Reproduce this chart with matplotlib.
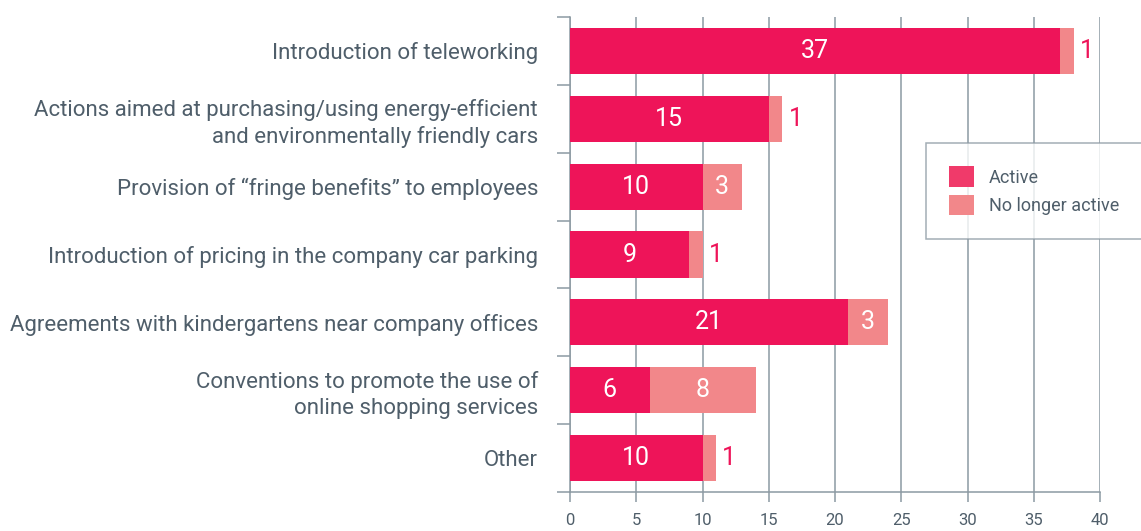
import matplotlib
matplotlib.use("Agg")
import matplotlib.pyplot as plt
from matplotlib.patches import Patch
import numpy as np

categories = [
    "Introduction of teleworking",
    "Actions aimed at purchasing/using energy-efficient\nand environmentally friendly cars",
    "Provision of \u201cfringe benefits\u201d to employees",
    "Introduction of pricing in the company car parking",
    "Agreements with kindergartens near company offices",
    "Conventions to promote the use of\nonline shopping services",
    "Other",
]
active = [37, 15, 10, 9, 21, 6, 10]
no_longer = [1, 1, 3, 1, 3, 8, 1]
xticks = [0, 5, 10, 15, 20, 25, 30, 35, 40]

C_ACTIVE = "#EE1459"
C_NOLONGER = "#F2878A"
GRID = "#8C9AA3"
TXT = "#4F5E6A"

plt.rcParams['font.family'] = ['Roboto', 'DejaVu Sans']

fig = plt.figure(figsize=(11.41, 5.31), dpi=100)
ax = fig.add_axes([570/1141, 1-492/531, 530/1141, 475/531])

n = len(categories)
y = np.arange(n)
h = 0.68
ax.barh(y, active, height=h, color=C_ACTIVE, zorder=3)
ax.barh(y, no_longer, left=active, height=h, color=C_NOLONGER, zorder=3)

for i in range(n):
    a, b = active[i], no_longer[i]
    ax.text(a/2, y[i], str(a), ha="center", va="center", color="white", fontsize=18, zorder=4)
    if b >= 2:
        ax.text(a + b/2, y[i], str(b), ha="center", va="center", color="white", fontsize=18, zorder=4)
    else:
        ax.text(a + b + 0.5, y[i], str(b), ha="left", va="center", color=C_ACTIVE, fontsize=18, zorder=4)

ax.set_ylim(n - 0.5, -0.5)
ax.set_xlim(0, 40)
ax.set_xticks(xticks)
ax.set_xticklabels([str(t) for t in xticks])
ax.xaxis.grid(True, color=GRID, linewidth=1.1, zorder=0)
ax.set_axisbelow(True)

ax.set_yticks(y)
ax.set_yticklabels(categories, fontsize=16, color=TXT, linespacing=1.3)
ax.set_yticks(np.arange(n + 1) - 0.5, minor=True)
ax.tick_params(axis="y", which="major", length=0, pad=23)
ax.tick_params(axis="y", which="minor", length=9.5, width=1.1, color=GRID, direction="out")
ax.tick_params(axis="x", which="major", length=7, width=1.1, color=GRID, labelsize=12, labelcolor=TXT, pad=8)
for lab in ax.get_yticklabels():
    lab.set_horizontalalignment("right")

for s in ["top", "right"]:
    ax.spines[s].set_visible(False)
for s in ["left", "bottom"]:
    ax.spines[s].set_color(GRID)
    ax.spines[s].set_linewidth(1.1)

handles = [Patch(facecolor="#F03A6A", edgecolor="none", label="Active"),
           Patch(facecolor=C_NOLONGER, edgecolor="none", label="No longer active")]
leg = fig.legend(handles=handles, loc="upper left", bbox_to_anchor=(926/1141, 1-143/531),
                 frameon=True, fancybox=False, fontsize=13, labelcolor=TXT,
                 handlelength=1.35, handleheight=1.35, handletextpad=0.85,
                 borderpad=1.3, borderaxespad=0, labelspacing=0.45)
leg.get_frame().set_edgecolor(GRID)
leg.get_frame().set_linewidth(1.1)

fig.savefig("out.png", dpi=100)
